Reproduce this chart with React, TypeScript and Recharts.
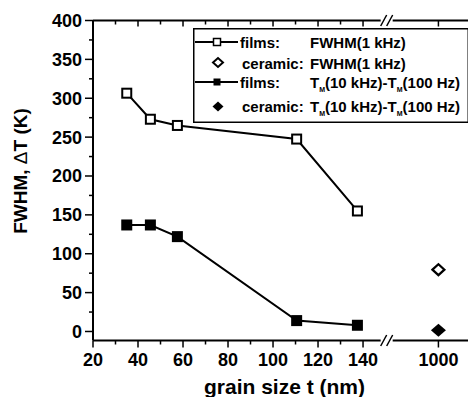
import React from 'react';
import { ScatterChart, Scatter, XAxis, YAxis, Legend } from 'recharts';

// ---------------- data ----------------
const grainSizeFilms = [35, 45.5, 57.5, 110.5, 137.5];
const fwhmFilms = [306.5, 273, 265, 247.5, 155];
const deltaTFilms = [137, 137, 122, 14, 8];

const grainSizeCeramic = [1000];
const fwhmCeramic = [79.5];
const deltaTCeramic = [1.5];

const xMajorTicks = [20, 40, 60, 80, 100, 120, 140, 1000];
const xMinorTicks = [30, 50, 70, 90, 110, 130];
const yMajorTicks = [0, 50, 100, 150, 200, 250, 300, 350, 400];
const yMinorTicks = [25, 75, 125, 175, 225, 275, 325, 375];

const seriesNames = [
  'films: FWHM(1 kHz)',
  'ceramic: FWHM(1 kHz)',
  'films: TM(10 kHz)-TM(100 Hz)',
  'ceramic: TM(10 kHz)-TM(100 Hz)',
];

// ---------------- broken axis mapping ----------------
const BREAK_POS = 150.5; // axis position of the "//" break
const POS_1000 = 173.5; // axis position where the value 1000 is drawn
const toAxis = (v: number) => (v > BREAK_POS ? POS_1000 + (v - 1000) : v);

const filmsFwhmData = grainSizeFilms.map((g, i) => ({ x: toAxis(g), y: fwhmFilms[i] }));
const filmsDeltaData = grainSizeFilms.map((g, i) => ({ x: toAxis(g), y: deltaTFilms[i] }));
const ceramicFwhmData = grainSizeCeramic.map((g, i) => ({ x: toAxis(g), y: fwhmCeramic[i] }));
const ceramicDeltaData = grainSizeCeramic.map((g, i) => ({ x: toAxis(g), y: deltaTCeramic[i] }));

const xMajorPos = xMajorTicks.map(toAxis);
const xMinorPos = xMinorTicks.map(toAxis);
const xTickPos = [...xMajorPos, ...xMinorPos, BREAK_POS].sort((a, b) => a - b);
const yTickPos = [...yMajorTicks, ...yMinorTicks].sort((a, b) => a - b);

const FONT = '"Liberation Sans", Arial, Helvetica, sans-serif';
const eq = (a: number, b: number) => Math.abs(a - b) < 1e-6;

// ---------------- shapes ----------------
const OpenSquare = (props: any) => {
  const { cx, cy } = props;
  return <rect x={cx - 4.5} y={cy - 4.5} width={9} height={9} fill="#fff" stroke="#000" strokeWidth={2} />;
};
const FilledSquare = (props: any) => {
  const { cx, cy } = props;
  return <rect x={cx - 5.5} y={cy - 5.5} width={11} height={11} fill="#000" />;
};
const OpenDiamond = (props: any) => {
  const { cx, cy } = props;
  return (
    <polygon
      points={`${cx - 6},${cy} ${cx},${cy - 5.5} ${cx + 6},${cy} ${cx},${cy + 5.5}`}
      fill="#fff"
      stroke="#000"
      strokeWidth={2.2}
    />
  );
};
const FilledDiamond = (props: any) => {
  const { cx, cy } = props;
  return <polygon points={`${cx - 7.5},${cy} ${cx},${cy - 6.5} ${cx + 7.5},${cy} ${cx},${cy + 6.5}`} fill="#000" />;
};

// ---------------- ticks ----------------
const BreakMark = ({ x, y }: { x: number; y: number }) => (
  <g>
    <rect x={x - 6} y={y - 2} width={12} height={4} fill="#fff" />
    <line x1={x - 6} y1={y + 5.5} x2={x} y2={y - 5.5} stroke="#000" strokeWidth={1.5} />
    <line x1={x} y1={y + 5.5} x2={x + 6} y2={y - 5.5} stroke="#000" strokeWidth={1.5} />
  </g>
);

const BottomTick = (props: any) => {
  const { x, y, payload } = props;
  const v = payload.value;
  if (eq(v, BREAK_POS)) return <BreakMark x={x} y={y} />;
  const mi = xMajorPos.findIndex((p) => eq(p, v));
  const major = mi >= 0;
  return (
    <g>
      <line x1={x} y1={y} x2={x} y2={y + (major ? 7 : 4)} stroke="#000" strokeWidth={1.5} />
      {major && (
        <text x={x} y={y + 25} textAnchor="middle" fontFamily={FONT} fontWeight="bold" fontSize={18} fill="#000">
          {String(xMajorTicks[mi])}
        </text>
      )}
    </g>
  );
};

const TopTick = (props: any) => {
  const { x, y, payload } = props;
  const v = payload.value;
  if (eq(v, BREAK_POS)) return <BreakMark x={x} y={y} />;
  const major = xMajorPos.some((p) => eq(p, v));
  return <line x1={x} y1={y} x2={x} y2={y + (major ? 6 : 4)} stroke="#000" strokeWidth={1.5} />;
};

const LeftTick = (props: any) => {
  const { x, y, payload } = props;
  const v = payload.value;
  const major = yMajorTicks.some((p) => eq(p, v));
  return (
    <g>
      <line x1={x} y1={y} x2={x - (major ? 8 : 4)} y2={y} stroke="#000" strokeWidth={1.5} />
      {major && (
        <text x={x - 11} y={y + 6.5} textAnchor="end" fontFamily={FONT} fontWeight="bold" fontSize={18} fill="#000">
          {String(v)}
        </text>
      )}
    </g>
  );
};

// ---------------- legend ----------------
const LegendBox = () => {
  const [n1, n2, n3, n4] = seriesNames.map((s) => s.split(': '));
  const txt = { fontFamily: FONT, fontWeight: 'bold' as const, fontSize: 15, fill: '#000' };
  const renderTM = (s: string, y: number) => {
    // "TM(10 kHz)-TM(100 Hz)" -> T with subscript M
    const parts = s.split('TM');
    const nodes: React.ReactNode[] = [];
    parts.forEach((p, i) => {
      if (i === 0) {
        if (p) nodes.push(<tspan key={`p${i}`}>{p}</tspan>);
        return;
      }
      nodes.push(<tspan key={`t${i}`}>T</tspan>);
      nodes.push(
        <tspan key={`m${i}`} fontSize={7} dy={3.5}>
          M
        </tspan>
      );
      nodes.push(
        <tspan key={`r${i}`} dy={-3.5}>
          {p}
        </tspan>
      );
    });
    return (
      <text x={117} y={y} {...txt}>
        {nodes}
      </text>
    );
  };
  return (
    <svg width={276} height={95} style={{ display: 'block' }}>
      <rect x={0.75} y={0.75} width={274.5} height={93.5} fill="#fff" stroke="#000" strokeWidth={1.5} />
      {/* row 1 */}
      <line x1={2} y1={14} x2={45} y2={14} stroke="#000" strokeWidth={2} />
      <rect x={20.5} y={10.5} width={7} height={7} fill="#fff" stroke="#000" strokeWidth={1.5} />
      <text x={47} y={19.5} {...txt}>{n1[0] + ':'}</text>
      <text x={117} y={19.5} {...txt}>{n1[1]}</text>
      {/* row 2 */}
      <polygon points="20,34.5 25,30 30,34.5 25,39" fill="#fff" stroke="#000" strokeWidth={2} />
      <text x={49} y={41} {...txt}>{n2[0] + ':'}</text>
      <text x={117} y={41} {...txt}>{n2[1]}</text>
      {/* row 3 */}
      <line x1={2} y1={54} x2={45} y2={54} stroke="#000" strokeWidth={2} />
      <rect x={20.5} y={50.5} width={7} height={7} fill="#000" />
      <text x={47} y={60} {...txt}>{n3[0] + ':'}</text>
      {renderTM(n3[1], 60)}
      {/* row 4 */}
      <polygon points="19.5,78.5 25,73.5 30.5,78.5 25,83.5" fill="#000" />
      <text x={49} y={84} {...txt}>{n4[0] + ':'}</text>
      {renderTM(n4[1], 84)}
    </svg>
  );
};

// ---------------- chart ----------------
export default function App() {
  return (
    <div style={{ width: 468, height: 389 }}>
      <ScatterChart width={468} height={389} margin={{ top: 0, right: 0, bottom: 0, left: 0 }}>
        <XAxis
          xAxisId="bottom"
          type="number"
          dataKey="x"
          domain={[20, 190.2]}
          ticks={xTickPos}
          interval={0}
          allowDataOverflow
          height={56.5}
          tickSize={0}
          tickMargin={0}
          tick={BottomTick}
          axisLine={{ stroke: '#000', strokeWidth: 2 }}
          label={{
            value: 'grain size t (nm)',
            position: 'insideBottom',
            offset: 3,
            style: { fontFamily: FONT, fontWeight: 'bold', fontSize: 21, fill: '#000' },
          }}
        />
        <XAxis
          xAxisId="top"
          orientation="top"
          type="number"
          dataKey="x"
          domain={[20, 190.2]}
          ticks={xTickPos}
          interval={0}
          allowDataOverflow
          height={12.5}
          tickSize={0}
          tickMargin={0}
          tick={TopTick}
          axisLine={{ stroke: '#000', strokeWidth: 2 }}
        />
        <YAxis
          yAxisId="left"
          type="number"
          dataKey="y"
          domain={[-11.6, 400]}
          ticks={yTickPos}
          interval={0}
          allowDataOverflow
          width={85}
          tickSize={0}
          tickMargin={0}
          tick={LeftTick}
          axisLine={{ stroke: '#000', strokeWidth: 2 }}
          label={{
            content: (p: any) => {
              const vb = p.viewBox || { x: 0, y: 12.5, width: 85, height: 320 };
              const cx = vb.x + 12;
              const cy = vb.y + vb.height / 2 - 9.5;
              return (
                <text
                  x={cx}
                  y={cy}
                  transform={`rotate(-90 ${cx} ${cy})`}
                  textAnchor="middle"
                  dominantBaseline="central"
                  fontFamily={FONT}
                  fontWeight="bold"
                  fontSize={19}
                  fill="#000"
                >
                  FWHM, <tspan fontWeight="normal">Δ</tspan>T (K)
                </text>
              );
            },
          }}
        />
        <Legend
          layout="horizontal"
          verticalAlign="middle"
          align="center"
          wrapperStyle={{ left: 185, top: 19.5, width: 276, height: 95 }}
          content={() => <LegendBox />}
        />
        <Scatter
          name={seriesNames[0]}
          data={filmsFwhmData}
          xAxisId="bottom"
          yAxisId="left"
          line={{ stroke: '#000', strokeWidth: 2 }}
          lineType="joint"
          shape={OpenSquare}
          isAnimationActive={false}
        />
        <Scatter
          name={seriesNames[1]}
          data={ceramicFwhmData}
          xAxisId="bottom"
          yAxisId="left"
          shape={OpenDiamond}
          isAnimationActive={false}
        />
        <Scatter
          name={seriesNames[2]}
          data={filmsDeltaData}
          xAxisId="bottom"
          yAxisId="left"
          line={{ stroke: '#000', strokeWidth: 2 }}
          lineType="joint"
          shape={FilledSquare}
          isAnimationActive={false}
        />
        <Scatter
          name={seriesNames[3]}
          data={ceramicDeltaData}
          xAxisId="bottom"
          yAxisId="left"
          shape={FilledDiamond}
          isAnimationActive={false}
        />
      </ScatterChart>
    </div>
  );
}
